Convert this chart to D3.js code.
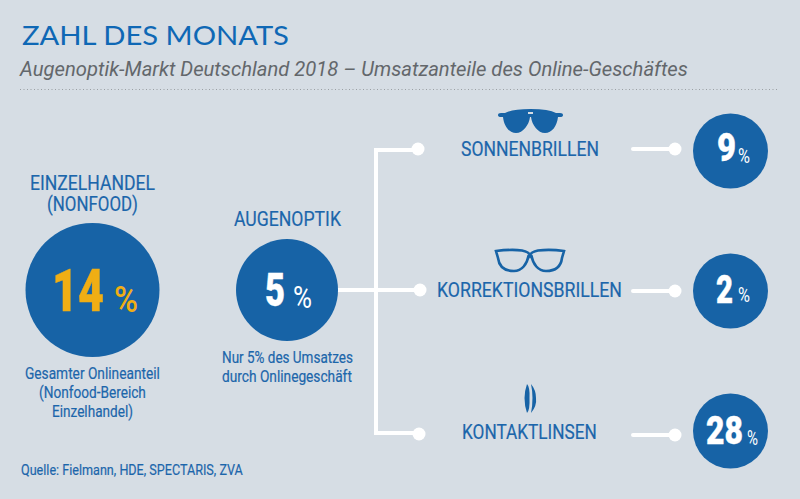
<!DOCTYPE html>
<html lang="de">
<head>
  <meta charset="UTF-8">
  <title>Zahl des Monats</title>
  <style>
    html, body { margin: 0; padding: 0; background: #d6dde4; }
    svg { display: block; }
    text { font-family: Roboto, sans-serif; }
  </style>
</head>
<body>
  <svg id="chart" width="800" height="499"></svg>
  <script src="https://d3js.org/d3.v7.min.js"></script>
  <script>
    const segments = ["SONNENBRILLEN", "KORREKTIONSBRILLEN", "KONTAKTLINSEN"];
    const segmentShares = [9, 2, 28];
    const overviewLabels = ["EINZELHANDEL (NONFOOD)", "AUGENOPTIK"];
    const overviewShares = [14, 5];

    const blue = "#1763a6", textBlue = "#1c66ab", yellow = "#f0ae14";
    const svg = d3.select("#chart");

    // rows on the right side
    const rowY = d3.scalePoint().domain(segments).range([151, 431]);
    // row offsets so lines and labels sit where the reference has them
    const rowLayout = {
      SONNENBRILLEN:      { x0: 461, x1: 599, base: 156, line: 149, branchDot: 418, branchY: 149 },
      KORREKTIONSBRILLEN: { x0: 437, x1: 622, base: 297, line: 291, branchDot: 420, branchY: 290 },
      KONTAKTLINSEN:      { x0: 462, x1: 597, base: 439, line: 435, branchDot: 419, branchY: 434 }
    };

    // fits a string between x0 and x1, Roboto squeezed to look condensed
    function label(str, x0, x1, base, size, fill, weight, family, italic) {
      const t = svg.append("text")
        .attr("font-size", size)
        .attr("font-weight", weight || 400)
        .attr("fill", fill || textBlue)
        .text(str);
      if (family) t.style("font-family", family);
      if (italic) t.style("font-style", "italic");
      const sx = (x1 - x0) / t.node().getComputedTextLength();
      t.attr("transform", `translate(${x0},${base}) scale(${sx},1)`);
      return t;
    }
    // big digits, thickened a little because the squeeze thins them
    function digits(str, x0, x1, base, size, fill) {
      return label(str, x0, x1, base, size, fill, 900)
        .attr("stroke", fill).attr("stroke-width", 0.4);
    }
    // running text, a touch heavier than regular
    function copy(str, x0, x1, base, size) {
      return label(str, x0, x1, base, size).attr("stroke", textBlue).attr("stroke-width", 0.2);
    }

    svg.append("rect").attr("width", 800).attr("height", 499).attr("fill", "#d6dde4");

    // header
    label("ZAHL DES MONATS", 22, 289, 45, 27, "#0f68b5", 400, "Lato, sans-serif");
    label("Augenoptik-Markt Deutschland 2018 – Umsatzanteile des Online-Geschäftes", 20, 688, 76, 20, "#63676b", 400, null, true);
    svg.append("line")
      .attr("x1", 20).attr("x2", 778).attr("y1", 89.5).attr("y2", 89.5)
      .attr("stroke", "#9a9fa3").attr("stroke-width", 1).attr("stroke-dasharray", "1 2.5");

    // connector lines
    const wire = svg.append("g").attr("stroke", "#fff").attr("stroke-width", 4).attr("fill", "none");
    wire.append("line").attr("x1", 376).attr("x2", 376).attr("y1", 148).attr("y2", 435);
    wire.append("line").attr("x1", 376).attr("x2", 418).attr("y1", 150).attr("y2", 150);
    wire.append("line").attr("x1", 338).attr("x2", 420).attr("y1", 290).attr("y2", 290);
    wire.append("line").attr("x1", 374).attr("x2", 418).attr("y1", 433).attr("y2", 433);

    segments.forEach(name => {
      const l = rowLayout[name];
      svg.append("circle").attr("cx", l.branchDot).attr("cy", l.branchY).attr("r", 6.5).attr("fill", "#fff");
      svg.append("line").attr("x1", 633).attr("x2", 675).attr("y1", l.line).attr("y2", l.line)
        .attr("stroke", "#fff").attr("stroke-width", 4).attr("stroke-linecap", "round");
      svg.append("circle").attr("cx", 675).attr("cy", l.line).attr("r", 6.5).attr("fill", "#fff");
      copy(name, l.x0, l.x1, l.base, 21);
    });

    // right circles
    const rightBox = [
      { nx0: 717, nx1: 736, base: 161, px0: 738, px1: 750, pbase: 163 },
      { nx0: 716, nx1: 733, base: 303, px0: 738, px1: 750, pbase: 302 },
      { nx0: 706, nx1: 743, base: 444, px0: 747, px1: 758, pbase: 445 }
    ];
    segments.forEach((name, i) => {
      const b = rightBox[i];
      svg.append("circle").attr("cx", 730.5).attr("cy", rowY(name)).attr("r", 37.5).attr("fill", blue);
      digits(String(segmentShares[i]), b.nx0, b.nx1, b.base, 38, "#fff");
      label("%", b.px0, b.px1, b.pbase, 20, "#fff", 400);
    });

    // left circles
    svg.append("circle").attr("cx", 92.5).attr("cy", 290).attr("r", 67).attr("fill", blue);
    svg.append("circle").attr("cx", 287).attr("cy", 290).attr("r", 51).attr("fill", blue);

    const [einzel, nonfood] = overviewLabels[0].split(" ");
    copy(einzel, 30, 155, 190, 21);
    copy(nonfood, 47, 138, 211, 21);
    digits(String(overviewShares[0]), 52, 104, 311, 60, yellow);
    label("%", 114, 138, 312, 37, yellow, 500);
    copy("Gesamter Onlineanteil", 25, 160, 379, 16.5);
    copy("(Nonfood-Bereich", 39, 146, 398, 16.5);
    copy("Einzelhandel)", 52, 133, 417, 16.5);

    copy(overviewLabels[1], 234, 341, 226, 21);
    digits(String(overviewShares[1]), 265, 285, 306, 47, "#fff");
    label("%", 293, 312, 308, 32, "#fff", 400);
    copy("Nur 5% des Umsatzes", 222, 353, 363, 16.5);
    copy("durch Onlinegeschäft", 222, 352, 382, 16.5);

    copy("Quelle: Fielmann, HDE, SPECTARIS, ZVA", 21, 243, 475, 15.5);

    // icons
    const sun = svg.append("g").attr("fill", blue);
    sun.append("path").attr("d", "M498 115 Q498 113 501 113 L505 113 Q512 109 530.5 109 Q549 109 556 113 L560 113 Q563 113 563 115 Q563 117 560 117 L558 117 C557 126 552 133 545 133 C538 133 532 125 531 117 L530 117 C529 125 523 133 516 133 C509 133 504 126 503 117 L501 117 Q498 117 498 115Z");
    sun.append("rect").attr("x", 528).attr("y", 112).attr("width", 5).attr("height", 2).attr("fill", "#d6dde4");

    const glasses = svg.append("g").attr("fill", "none").attr("stroke", blue).attr("stroke-width", 2.6);
    glasses.append("path").attr("d", "M496 251 Q512 249 522 250.5 Q529 252 530 255 Q531 252 538 250.5 Q550 249 564 251 L562 258 C561 266 556 271 546 271 C538 271 533 264 531.5 256 L528.5 256 C527 264 522 271 514 271 C504 271 499 266 498 258Z");

    const lens = svg.append("g").attr("fill", blue);
    lens.append("path").attr("d", "M527 384 Q522 398 527 413 Q530 410 529.5 398 Q530 387 527 384Z");
    lens.append("path").attr("d", "M531 384 Q534 398 531 413 Q537 406 536 398 Q536 390 531 384Z");
  </script>
</body>
</html>
